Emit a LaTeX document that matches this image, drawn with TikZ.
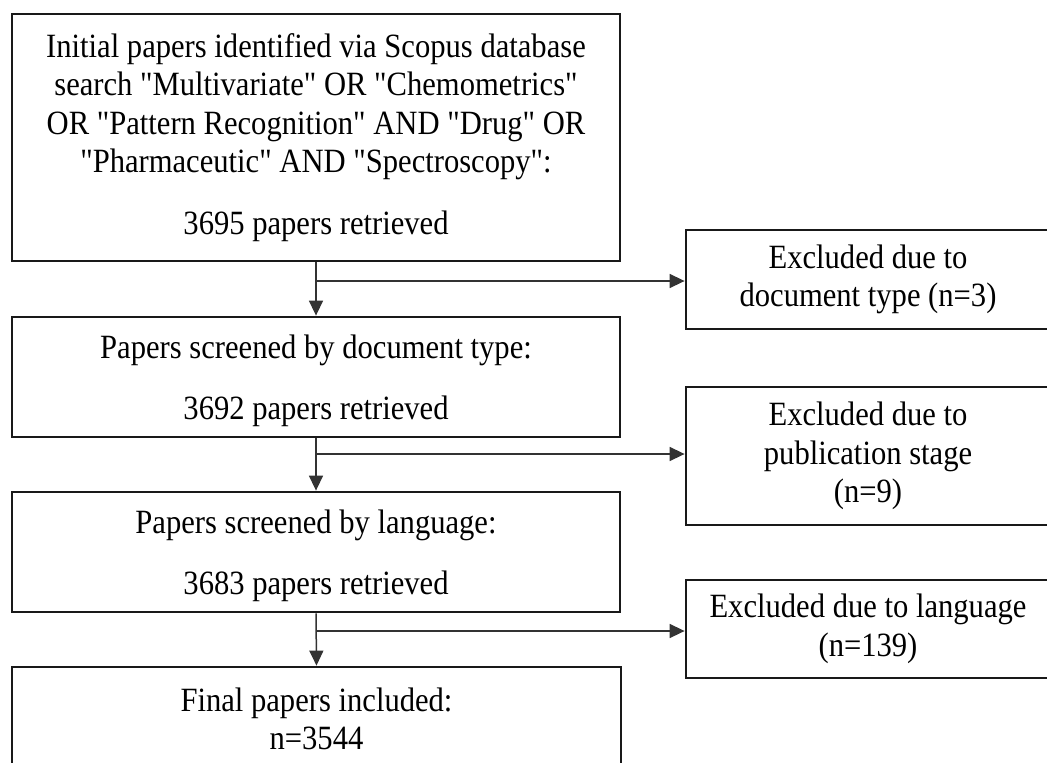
\documentclass[tikz,border=0pt]{standalone}
\usepackage{fontspec}
\setmainfont{Liberation Serif}[Ligatures=TeXOff, FakeStretch=0.9]
\usetikzlibrary{arrows.meta}
\begin{document}
\begin{tikzpicture}[x=1pt,y=-1pt,
  box/.style={draw=black!90, line width=2.8pt, rectangle, inner sep=0pt, align=center,
    font=\fontsize{34}{38.5}\selectfont},
  conn/.style={draw=black!80, line width=1.5pt},
  arr/.style={conn, -{Triangle[length=15pt,width=14pt]}}]
\useasboundingbox (0,0) rectangle (1047,763);
\fill[white] (0,0) rectangle (1047,763);
\clip (0,0) rectangle (1047,763);
% main column
\node[box, minimum width=608pt, minimum height=247pt] (b1) at (316,137.5)
  {Initial papers identified via Scopus database\\
   search "Multivariate" OR "Chemometrics"\\
   OR "Pattern Recognition" AND "Drug" OR\\
   "Pharmaceutic" AND "Spectroscopy":\\[23pt]
   3695 papers retrieved};
\node[box, minimum width=608pt, minimum height=120pt] (b2) at (316,377)
  {\rule{0pt}{32pt}Papers screened by document type:\\[22.5pt] 3692 papers retrieved};
\node[box, minimum width=608pt, minimum height=120pt] (b3) at (316,552)
  {\rule{0pt}{32pt}Papers screened by language:\\[22.5pt] 3683 papers retrieved};
\node[box, minimum width=609pt, minimum height=104pt] (b4) at (316.5,719)
  {Final papers included:\\ n=3544};
% excluded column
\node[box, minimum width=364pt, minimum height=99pt] (e1) at (868,279.5)
  {Excluded due to\\ document type (n=3)};
\node[box, minimum width=364pt, minimum height=138pt] (e2) at (868,456)
  {Excluded due to\\ publication stage\\ (n=9)};
\node[box, minimum width=364pt, minimum height=98pt] (e3) at (868,629)
  {Excluded due to language\\ (n=139)};
% connectors
\coordinate (j1) at (316,281);
\coordinate (j2) at (316,454);
\coordinate (j3) at (316,631);
\draw[arr] (b1.south) -- (b2.north);
\draw[arr] (b2.south) -- (b3.north);
\draw[arr] (b3.south) -- (b4.north);
\draw[arr] (j1) -- (j1 -| e1.west);
\draw[arr] (j2) -- (j2 -| e2.west);
\draw[arr] (j3) -- (j3 -| e3.west);
\end{tikzpicture}
\end{document}
